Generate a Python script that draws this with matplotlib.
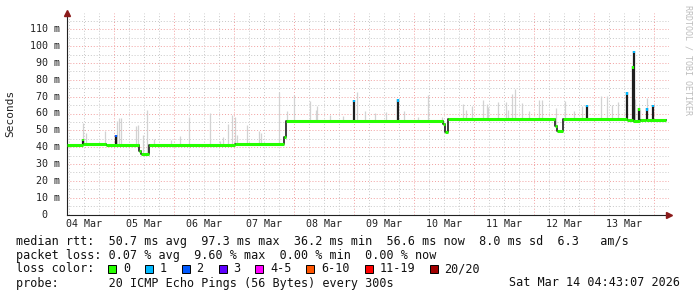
import numpy as np
import matplotlib
matplotlib.use("Agg")
import matplotlib.pyplot as plt
import matplotlib.transforms as mtrans
from matplotlib.patches import Rectangle

# time axis in days, "04 Mar" label at 0
day_labels = ["04 Mar", "05 Mar", "06 Mar", "07 Mar", "08 Mar",
              "09 Mar", "10 Mar", "11 Mar", "12 Mar", "13 Mar"]

# median rtt (ms), step values starting at each time
med_t = [-0.288, -0.02, 0.36, 0.91, 0.945, 1.08, 2.51, 3.33, 3.36, 5.98,
         6.01, 6.06, 7.85, 7.88, 7.98, 9.05, 9.14, 9.27, 9.37, 9.69]
med_v = [41.0, 41.6, 41.0, 38.0, 36.2, 41.0, 41.6, 46.0, 55.5, 54.0,
         49.0, 56.8, 52.5, 49.8, 56.8, 56.2, 55.4, 56.2, 56.4, 56.4]

# light smoke (max ping) spikes
smoke_t = [-0.02, 0.03, 0.345, 0.54, 0.58, 0.61, 0.86, 0.89, 0.98, 1.05,
           1.16, 1.44, 1.60, 1.74, 2.10, 2.26, 2.31, 2.40, 2.46, 2.52,
           2.55, 2.72, 2.92, 2.94, 3.25, 3.38, 3.50, 3.76, 3.86, 3.88,
           4.10, 4.32, 4.55, 4.68, 4.84, 5.03, 5.21, 5.33, 5.57, 5.73,
           5.97, 6.32, 6.37, 6.46, 6.65, 6.71, 6.73, 6.90, 7.03, 7.07,
           7.13, 7.18, 7.29, 7.42, 7.58, 7.63, 7.86, 8.01, 8.17, 8.29,
           8.61, 8.71, 8.79, 8.90, 9.18, 9.26, 9.38]
smoke_top = [54.4, 48.5, 49.4, 55.3, 57.6, 57.6, 52.3, 53.3, 47.4, 62.2,
             45.0, 44.4, 46.4, 58.2, 60.2, 43.4, 46.0, 53.9, 59.2, 58.2,
             47.4, 53.3, 49.4, 48.4, 73.0, 61.2, 71.1, 67.7, 62.2, 64.6,
             59.2, 58.6, 72.5, 61.6, 60.2, 60.8, 68.1, 61.6, 58.2, 70.7,
             57.9, 65.6, 62.2, 64.6, 68.1, 65.6, 63.8, 66.9, 66.9, 62.2,
             71.5, 74.6, 66.2, 61.6, 68.1, 68.1, 63.2, 67.5, 61.6, 64.2,
             70.1, 70.5, 65.2, 66.6, 68.5, 62.0, 69.5]

# dense (dark) spikes with the loss class at their top
spike_t = [-0.02, 0.53, 4.49, 5.23, 8.38, 9.05, 9.14, 9.16, 9.25, 9.38, 9.48]
spike_top = [45.0, 47.4, 68.1, 68.5, 65.2, 72.5, 88.0, 97.3, 63.0, 63.0, 65.2]
spike_loss = [0, 2, 1, 1, 1, 1, 0, 1, 0, 1, 1]

loss_labels = ["0", "1", "2", "3", "4-5", "6-10", "11-19", "20/20"]
loss_colors = ["#26ff00", "#00b8ff", "#0059ff", "#5e00ff", "#ff00ff",
               "#ff5500", "#ff0000", "#a10000"]

W, H = 697, 297
fig = plt.figure(figsize=(W / 100, H / 100), dpi=100)
fig.patch.set_facecolor("white")
ax = fig.add_axes([67 / W, 82.5 / H, 602 / W, 202 / H])
ax.set_xlim(-0.288, 9.745)
ax.set_ylim(0, 120)

mono = "DejaVu Sans Mono"

# grid
for t in np.arange(-0.25, 9.76, 0.25):
    is_major = abs((t - 0.5) - round(t - 0.5)) < 1e-6
    ax.axvline(t, color="#f2a0a0" if is_major else "#c8c8c8",
               lw=0.7, ls=(0, (1, 2)), zorder=0)
for v in range(5, 120, 5):
    ax.axhline(v, color="#f2a0a0" if v % 10 == 0 else "#c8c8c8",
               lw=0.7, ls=(0, (1, 2)), zorder=0)

med_t = np.array(med_t)
med_v = np.array(med_v)

def median_at(t):
    i = np.searchsorted(med_t, t, side="right") - 1
    return med_v[np.clip(i, 0, len(med_v) - 1)]

# smoke
ax.vlines(smoke_t, [median_at(t) for t in smoke_t], smoke_top,
          color="#d2d2d2", lw=0.9, zorder=1)

# dark spikes
ax.vlines(spike_t, [median_at(t) for t in spike_t], spike_top,
          color="#1e1e1e", lw=1.6, zorder=2)
ax.vlines(spike_t, np.array(spike_top) - 1.5, spike_top,
          color=[loss_colors[k] for k in spike_loss], lw=1.6, zorder=3)

# median line: dark steps, green level segments
ax.step(med_t, med_v, where="post", color="#1e1e1e", lw=1.2, zorder=2)
ax.hlines(med_v[:-1], med_t[:-1], med_t[1:], color=loss_colors[0],
          lw=2.2, zorder=4)

# axes look
for s in ["top", "right"]:
    ax.spines[s].set_visible(False)
for s in ["left", "bottom"]:
    ax.spines[s].set_color("#222222")
    ax.spines[s].set_linewidth(0.8)
ax.set_xticks([])
ax.set_yticks([])
ax.plot([ax.get_xlim()[0]], [ax.get_ylim()[1]], marker="^", ms=4.5,
        color="#8b1a1a", clip_on=False, zorder=5)
ax.plot([ax.get_xlim()[1]], [0], marker=">", ms=4.5,
        color="#8b1a1a", clip_on=False, zorder=5)

# y tick labels
ytr = mtrans.blended_transform_factory(fig.transFigure, ax.transData)
for v in range(0, 120, 10):
    lab = "%3d m" % v if v else "  0  "
    fig.text(30 / W, v, lab, transform=ytr, ha="left", va="center",
             family=mono, fontsize=7.2, color="#222222")

# x tick labels
xtr = mtrans.blended_transform_factory(ax.transData, fig.transFigure)
for i, lab in enumerate(day_labels):
    fig.text(i, 1 - 224 / H, lab, transform=xtr, ha="center", va="center",
             family=mono, fontsize=7.2, color="#222222")

fig.text(10 / W, 1 - 113.5 / H, "Seconds", rotation=90, ha="center",
         va="center", family=mono, fontsize=8, color="#222222")
fig.text(688 / W, 1 - 5 / H, "RRDTOOL / TOBI OETIKER", rotation=-90,
         ha="center", va="top", family=mono, fontsize=6, color="#bdbdbd")

# legend
fs = 8.5
fig.text(16 / W, 1 - 241.3 / H,
         "median rtt:  50.7 ms avg  97.3 ms max  36.2 ms min  56.6 ms now  8.0 ms sd  6.3   am/s",
         ha="left", va="center", family=mono, fontsize=fs, color="#111111")
fig.text(16 / W, 1 - 255 / H,
         "packet loss: 0.07 % avg  9.60 % max  0.00 % min  0.00 % now",
         ha="left", va="center", family=mono, fontsize=fs, color="#111111")
fig.text(16 / W, 1 - 269 / H, "loss color:", ha="left", va="center",
         family=mono, fontsize=fs, color="#111111")
x = 108.3
for lab, col in zip(loss_labels, loss_colors):
    fig.patches.append(Rectangle((x / W, 1 - 273 / H), 8 / W, 8 / H,
                                 transform=fig.transFigure, facecolor=col,
                                 edgecolor="black", lw=0.7))
    fig.text((x + 14.7) / W, 1 - 269 / H, lab, ha="left", va="center",
             family=mono, fontsize=fs, color="#111111")
    x = x + 14.7 + len(lab) * 7.1 + 15
fig.text(16 / W, 1 - 283 / H,
         "probe:       20 ICMP Echo Pings (56 Bytes) every 300s",
         ha="left", va="center", family=mono, fontsize=fs, color="#111111")
fig.text(680 / W, 1 - 283 / H, "Sat Mar 14 04:43:07 2026", ha="right",
         va="center", family=mono, fontsize=fs, color="#111111")

fig.savefig("out.png", dpi=100)
